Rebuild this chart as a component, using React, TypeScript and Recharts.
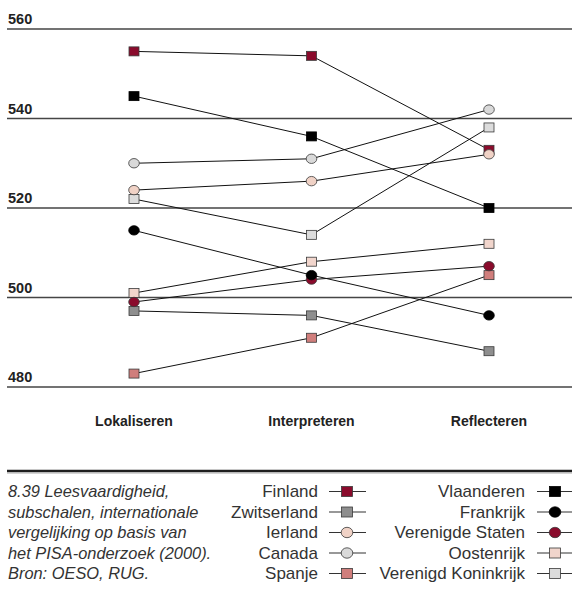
import { CartesianGrid, Line, LineChart, XAxis, YAxis } from "recharts";

const categories = ["Lokaliseren", "Interpreteren", "Reflecteren"];
const yTicks = [480, 500, 520, 540, 560];

const finland = [555, 554, 533];
const vlaanderen = [545, 536, 520];
const zwitserland = [497, 496, 488];
const frankrijk = [515, 505, 496];
const ierland = [524, 526, 532];
const verenigdeStaten = [499, 504, 507];
const canada = [530, 531, 542];
const oostenrijk = [501, 508, 512];
const spanje = [483, 491, 505];
const verenigdKoninkrijk = [522, 514, 538];

const captionLines = [
  "8.39 Leesvaardigheid,",
  "subschalen, internationale",
  "vergelijking op basis van",
  "het PISA-onderzoek (2000).",
  "Bron: OESO, RUG.",
];

type Shape = "square" | "circle";
type Series = { key: string; name: string; values: number[]; shape: Shape; fill: string };

const finlandS: Series = { key: "fi", name: "Finland", values: finland, shape: "square", fill: "#8a0b2c" };
const vlaanderenS: Series = { key: "vl", name: "Vlaanderen", values: vlaanderen, shape: "square", fill: "#000000" };
const zwitserlandS: Series = { key: "ch", name: "Zwitserland", values: zwitserland, shape: "square", fill: "#8e8e8e" };
const frankrijkS: Series = { key: "fr", name: "Frankrijk", values: frankrijk, shape: "circle", fill: "#000000" };
const ierlandS: Series = { key: "ie", name: "Ierland", values: ierland, shape: "circle", fill: "#f0d2c6" };
const vsS: Series = { key: "us", name: "Verenigde Staten", values: verenigdeStaten, shape: "circle", fill: "#8a0b2c" };
const canadaS: Series = { key: "ca", name: "Canada", values: canada, shape: "circle", fill: "#d9d9d9" };
const oostenrijkS: Series = { key: "at", name: "Oostenrijk", values: oostenrijk, shape: "square", fill: "#f1d5cc" };
const spanjeS: Series = { key: "es", name: "Spanje", values: spanje, shape: "square", fill: "#d07e7c" };
const ukS: Series = { key: "uk", name: "Verenigd Koninkrijk", values: verenigdKoninkrijk, shape: "square", fill: "#dcdcdc" };

// drawing order (later on top)
const drawOrder = [finlandS, vlaanderenS, zwitserlandS, spanjeS, ukS, oostenrijkS, canadaS, vsS, ierlandS, frankrijkS];
const legendLeft = [finlandS, zwitserlandS, ierlandS, canadaS, spanjeS];
const legendRight = [vlaanderenS, frankrijkS, vsS, oostenrijkS, ukS];

const data = categories.map((cat, i) => {
  const row: Record<string, string | number> = { cat };
  drawOrder.forEach((s) => (row[s.key] = s.values[i]));
  return row;
});

const boldFont = '"Liberation Sans Narrow", "Arial Narrow", "Liberation Sans", Arial, sans-serif';
const plainFont = '"Liberation Sans", Arial, sans-serif';

function Marker({ cx, cy, shape, fill, size = 10 }: { cx: number; cy: number; shape: Shape; fill: string; size?: number }) {
  const stroke = fill === "#000000" ? "#000000" : "#3a3a3a";
  const h = size / 2;
  if (shape === "square")
    return <rect x={cx - h} y={cy - h + 0.5} width={size} height={size - 1} fill={fill} stroke={stroke} strokeWidth={0.8} />;
  return <ellipse cx={cx} cy={cy} rx={h + 0.3} ry={h - 0.3} fill={fill} stroke={stroke} strokeWidth={0.8} />;
}

const makeDot = (s: Series) => (props: any) => {
  const { cx, cy, index } = props;
  return (
    <g key={`${s.key}-${index}`}>
      <Marker cx={cx} cy={cy} shape={s.shape} fill={s.fill} />
    </g>
  );
};

function YTick(props: any) {
  const { y, payload } = props;
  return (
    <text x={8} y={y - 5} fontFamily={boldFont} fontWeight="bold" fontSize={14.5} fill="#222">
      {payload.value}
    </text>
  );
}

function XTick(props: any) {
  const { x, y, payload } = props;
  return (
    <text x={x} y={y + 39} textAnchor="middle" fontFamily={boldFont} fontWeight="bold" fontSize={14} fill="#222">
      {payload.value}
    </text>
  );
}

function LegendRow({ s, textRight, lineFrom, lineTo, markerX, baseline }: any) {
  const cy = baseline - 5.5;
  return (
    <g>
      <text x={textRight} y={baseline} textAnchor="end" fontFamily={plainFont} fontSize={17} fill="#333">
        {s.name}
      </text>
      <line x1={lineFrom} x2={lineTo} y1={cy} y2={cy} stroke="#333" strokeWidth={1.2} />
      <Marker cx={markerX} cy={cy} shape={s.shape} fill={s.fill} size={11} />
    </g>
  );
}

export default function App() {
  const baselines = [497, 517.5, 538, 558.5, 579];
  return (
    <div style={{ position: "absolute", left: 0, top: 0, width: 572, height: 596, background: "#fff" }}>
      <LineChart width={572} height={440} data={data} margin={{ top: 29, right: 0, left: 6, bottom: 0 }}>
        <CartesianGrid vertical={false} stroke="#454545" strokeWidth={1.3} />
        <XAxis
          dataKey="cat"
          padding={{ left: 127, right: 83 }}
          axisLine={false}
          tickLine={false}
          tickSize={0}
          tickMargin={0}
          height={53}
          tick={<XTick />}
          interval={0}
        />
        <YAxis
          domain={[480, 560]}
          ticks={yTicks}
          width={1}
          interval={0}
          axisLine={false}
          tickLine={false}
          tickSize={0}
          tickMargin={0}
          tick={<YTick />}
        />
        {drawOrder.map((s) => (
          <Line
            key={s.key}
            dataKey={s.key}
            name={s.name}
            type="linear"
            stroke="#111"
            strokeWidth={1}
            dot={makeDot(s)}
            activeDot={false}
            isAnimationActive={false}
          />
        ))}
      </LineChart>
      <svg width={572} height={156} style={{ position: "absolute", left: 0, top: 440 }}>
        <line x1={7} x2={572} y1={31} y2={31} stroke="#1e1e1e" strokeWidth={2.6} />
        <line x1={7} x2={572} y1={33} y2={33} stroke="#aaa" strokeWidth={1} />
        {captionLines.map((t, i) => (
          <text key={t} x={8} y={baselines[i] - 440} fontFamily={plainFont} fontStyle="italic" fontSize={16.4} fill="#333">
            {t}
          </text>
        ))}
        {legendLeft.map((s, i) => (
          <LegendRow key={s.key} s={s} textRight={318} lineFrom={329} lineTo={366} markerX={347} baseline={baselines[i] - 440} />
        ))}
        {legendRight.map((s, i) => (
          <LegendRow key={s.key} s={s} textRight={525} lineFrom={537} lineTo={572} markerX={555} baseline={baselines[i] - 440} />
        ))}
      </svg>
    </div>
  );
}
